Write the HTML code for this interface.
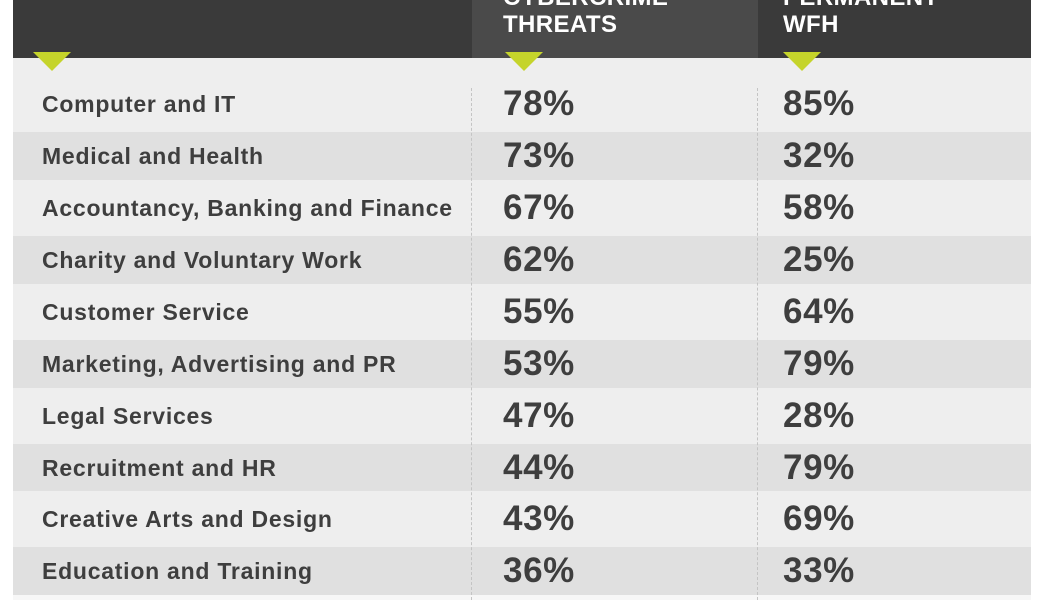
<!DOCTYPE html>
<html><head><style>
body{margin:0;width:1050px;height:600px;background:#fff;position:relative;overflow:hidden;font-family:"Liberation Sans",sans-serif;}
div{position:absolute;}
.hdr{top:0;height:58px;}
.tri{top:52px;width:0;height:0;border-left:19px solid transparent;border-right:19px solid transparent;border-top:19px solid #c5d42b;}
.band{left:13px;width:1018px;}
.lab{left:42px;font-weight:bold;font-size:23px;color:#3e3e3e;line-height:30px;letter-spacing:0.75px;white-space:nowrap;}
.pct{font-weight:bold;font-size:35px;color:#3e3e3e;line-height:36px;letter-spacing:0.6px;}
.ht{color:#fff;font-weight:bold;font-size:24px;line-height:27px;letter-spacing:0.4px;}
.dash{top:88px;height:512px;width:0;border-left:1.5px dashed #c4c4c4;}
</style></head><body>
<div class="hdr" style="left:13px;width:1018px;background:#3a3a3a"></div>
<div class="hdr" style="left:472px;width:286px;background:#4a4a4a"></div>
<div class="ht" style="left:503px;top:-16px">CYBERCRIME<br>THREATS</div>
<div class="ht" style="left:783px;top:-16px">PERMANENT<br>WFH</div>
<div class="band" style="top:58px;height:542px;background:#eeeeee"></div>
<div class="band" style="top:132px;height:48px;background:#e0e0e0"></div>
<div class="band" style="top:236px;height:48px;background:#e0e0e0"></div>
<div class="band" style="top:340px;height:48px;background:#e0e0e0"></div>
<div class="band" style="top:444px;height:47px;background:#e0e0e0"></div>
<div class="band" style="top:547px;height:48px;background:#e0e0e0"></div>
<div class="band" style="top:595px;height:5px;background:#f7f7f7"></div>
<div class="tri" style="left:33px"></div>
<div class="tri" style="left:505px"></div>
<div class="tri" style="left:783px"></div>
<div class="dash" style="left:471px"></div>
<div class="dash" style="left:757px"></div>

<div class="lab" style="top:89px">Computer and IT</div><div class="pct" style="left:503px;top:86px">78%</div><div class="pct" style="left:783px;top:86px">85%</div>
<div class="lab" style="top:141px">Medical and Health</div><div class="pct" style="left:503px;top:138px">73%</div><div class="pct" style="left:783px;top:138px">32%</div>
<div class="lab" style="top:193px">Accountancy, Banking and Finance</div><div class="pct" style="left:503px;top:190px">67%</div><div class="pct" style="left:783px;top:190px">58%</div>
<div class="lab" style="top:245px">Charity and Voluntary Work</div><div class="pct" style="left:503px;top:242px">62%</div><div class="pct" style="left:783px;top:242px">25%</div>
<div class="lab" style="top:297px">Customer Service</div><div class="pct" style="left:503px;top:294px">55%</div><div class="pct" style="left:783px;top:294px">64%</div>
<div class="lab" style="top:349px">Marketing, Advertising and PR</div><div class="pct" style="left:503px;top:346px">53%</div><div class="pct" style="left:783px;top:346px">79%</div>
<div class="lab" style="top:401px">Legal Services</div><div class="pct" style="left:503px;top:398px">47%</div><div class="pct" style="left:783px;top:398px">28%</div>
<div class="lab" style="top:453px">Recruitment and HR</div><div class="pct" style="left:503px;top:450px">44%</div><div class="pct" style="left:783px;top:450px">79%</div>
<div class="lab" style="top:504px">Creative Arts and Design</div><div class="pct" style="left:503px;top:501px">43%</div><div class="pct" style="left:783px;top:501px">69%</div>
<div class="lab" style="top:556px">Education and Training</div><div class="pct" style="left:503px;top:553px">36%</div><div class="pct" style="left:783px;top:553px">33%</div>
</body></html>
